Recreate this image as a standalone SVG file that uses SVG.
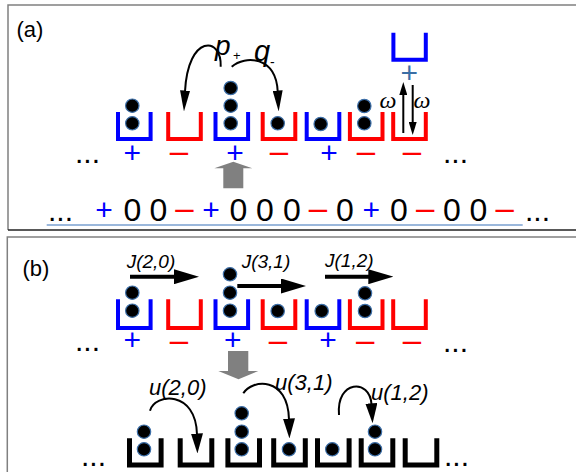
<svg xmlns="http://www.w3.org/2000/svg" width="576" height="472" viewBox="0 0 576 472">
<style>
text{font-family:"Liberation Sans",Arial,sans-serif;}
.frame{fill:none;stroke:#808080;stroke-width:1.5}
.bk{fill:none;stroke-width:4;stroke-linejoin:miter;stroke-linecap:butt}
.blue{stroke:#0000ff}
.red{stroke:#ff0000}
.black{stroke:#000;stroke-width:5}
.dot{fill:#000;stroke:#3d6fa8;stroke-width:1.2}
.sg{font-size:30px;text-anchor:middle}
.pl{fill:#0000ff}
.mn{fill:#ff0000;font-size:33px}
.num{font-size:32px;text-anchor:middle;fill:#000}
.ell{font-size:30px;fill:#000}
.lab{font-size:19px;font-style:italic;fill:#000}
.ulab{font-size:22px;font-style:italic;fill:#000}
.om{font-family:"Liberation Serif","Times New Roman",serif;font-size:24px;font-style:italic;text-anchor:middle}
.arc{fill:none;stroke:#000;stroke-width:2}
.jl{fill:none;stroke:#000;stroke-width:4}
.gray{fill:#808080}
</style>
<defs>
<marker id="hP" viewBox="0 0 21 10" refX="1" refY="5" markerWidth="21" markerHeight="10" markerUnits="userSpaceOnUse" orient="auto"><path d="M0,0 L21,5 L0,10 z" fill="#000"/></marker>
<marker id="hJ" viewBox="0 0 25 15" refX="1" refY="7.5" markerWidth="25" markerHeight="15" markerUnits="userSpaceOnUse" orient="auto"><path d="M0,0 L25,7.5 L0,15 z" fill="#000"/></marker>
<marker id="hU" viewBox="0 0 20 12" refX="1" refY="6" markerWidth="20" markerHeight="12" markerUnits="userSpaceOnUse" orient="auto"><path d="M0,0 L20,6 L0,12 z" fill="#000"/></marker>
<marker id="hW" viewBox="0 0 13 8" refX="1" refY="4" markerWidth="13" markerHeight="8" markerUnits="userSpaceOnUse" orient="auto"><path d="M0,0 L13,4 L0,8 z" fill="#000"/></marker>
</defs>
<rect width="576" height="472" fill="#fff"/>

<!-- panel frames -->
<path class="frame" d="M590,5 H8 V230"/>
<path d="M8,230 H590" fill="none" stroke="#222" stroke-width="1.5"/>
<path class="frame" d="M590,237 H7.3 V480"/>

<text x="16.5" y="37" font-size="22" fill="#000">(a)</text>
<text x="22.5" y="275.5" font-size="22" fill="#000">(b)</text>

<!-- panel (a) buckets -->
<g id="a1"><path class="bk blue" d="M118,112 V139 H150.6 V112"/><circle class="dot" cx="132.3" cy="123.3" r="6.7"/><circle class="dot" cx="132.3" cy="105.7" r="6.7"/><text class="sg pl" x="132.3" y="162.8">+</text></g>
<g id="a2"><path class="bk red" d="M168.2,112 V139 H200.8 V112"/><text class="sg mn" x="179" y="162">–</text></g>
<g id="a3"><path class="bk blue" d="M215.5,112 V139 H248.1 V112"/><circle class="dot" cx="230.7" cy="123.3" r="6.7"/><circle class="dot" cx="230.7" cy="105.7" r="6.7"/><circle class="dot" cx="230.7" cy="88" r="6.7"/><text class="sg pl" x="235" y="162.8">+</text></g>
<g id="a4"><path class="bk red" d="M262.7,112 V139 H295.3 V112"/><circle class="dot" cx="277.7" cy="123.3" r="6.7"/><text class="sg mn" x="279" y="162">–</text></g>
<g id="a5"><path class="bk blue" d="M306.7,112 V139 H339.3 V112"/><circle class="dot" cx="320.7" cy="124" r="6.7"/><text class="sg pl" x="329" y="162.8">+</text></g>
<g id="a6"><path class="bk red" d="M349.9,112 V139 H382.5 V112"/><circle class="dot" cx="364.3" cy="123.3" r="6.7"/><circle class="dot" cx="364.3" cy="106" r="6.7"/><text class="sg mn" x="366" y="162">–</text></g>
<g id="a7"><path class="bk red" d="M393.2,112 V139 H425.8 V112"/><text class="sg mn" x="412" y="162">–</text></g>
<g id="a-top"><path class="bk blue" d="M393.4,32.7 V59.7 H425.8 V32.7"/><text class="sg" x="409.3" y="83" fill="#3a6ea5">+</text></g>
<text class="ell" x="75" y="163">...</text>
<text class="ell" x="443" y="163">...</text>

<!-- gray arrow (a) -->
<polygon class="gray" points="223.3,188.3 223.3,168.3 214.3,168.3 233.3,161.7 252.3,168.3 243.3,168.3 243.3,188.3"/>

<!-- bottom string (a) -->
<g id="a-string">
<text class="ell" x="48" y="221">...</text>
<text class="sg pl" x="104" y="220">+</text>
<text class="num" x="132.5" y="220.5">0</text>
<text class="num" x="158.5" y="220.5">0</text>
<text class="sg mn" x="184.5" y="219">–</text>
<text class="sg pl" x="211" y="220">+</text>
<text class="num" x="238.5" y="220.5">0</text>
<text class="num" x="265" y="220.5">0</text>
<text class="num" x="292" y="220.5">0</text>
<text class="sg mn" x="318" y="219">–</text>
<text class="num" x="345" y="220.5">0</text>
<text class="sg pl" x="371.3" y="220">+</text>
<text class="num" x="399" y="220.5">0</text>
<text class="sg mn" x="425.3" y="219">–</text>
<text class="num" x="452" y="220.5">0</text>
<text class="num" x="478.3" y="220.5">0</text>
<text class="sg mn" x="504.7" y="219">–</text>
<text class="ell" x="525" y="221">...</text>
<path d="M46.7,225 H522.7" stroke="#7aa0d0" stroke-width="1.5" fill="none"/>
</g>

<!-- panel (b) top buckets -->
<g id="b1"><path class="bk blue" d="M118,299.3 V328 H150.6 V299.3"/><circle class="dot" cx="132.3" cy="310.7" r="6.7"/><circle class="dot" cx="132.3" cy="292.7" r="6.7"/><text class="sg pl" x="132.3" y="350">+</text></g>
<g id="b2"><path class="bk red" d="M168.2,299.3 V328 H200.8 V299.3"/><text class="sg mn" x="179" y="351">–</text></g>
<g id="b3"><path class="bk blue" d="M215.5,299.3 V328 H248.1 V299.3"/><circle class="dot" cx="230" cy="310.7" r="6.7"/><circle class="dot" cx="230" cy="292.7" r="6.7"/><circle class="dot" cx="230" cy="274.3" r="6.7"/><text class="sg pl" x="232.7" y="350">+</text></g>
<g id="b4"><path class="bk red" d="M262.7,299.3 V328 H295.3 V299.3"/><circle class="dot" cx="277.7" cy="311" r="6.7"/><text class="sg mn" x="278" y="351">–</text></g>
<g id="b5"><path class="bk blue" d="M306.7,299.3 V328 H339.3 V299.3"/><circle class="dot" cx="321.7" cy="311" r="6.7"/><text class="sg pl" x="328" y="350">+</text></g>
<g id="b6"><path class="bk red" d="M349.9,299.3 V328 H382.5 V299.3"/><circle class="dot" cx="365" cy="311" r="6.7"/><circle class="dot" cx="365" cy="293.3" r="6.7"/><text class="sg mn" x="365.3" y="351">–</text></g>
<g id="b7"><path class="bk red" d="M393.2,299.3 V328 H425.8 V299.3"/><text class="sg mn" x="412" y="351">–</text></g>
<text class="ell" x="75" y="350.5">...</text>
<text class="ell" x="443" y="352">...</text>

<!-- gray arrow (b) -->
<polygon class="gray" points="228,351 248.3,351 248.3,371 258.3,371 238.5,379.3 218.3,371 228,371"/>

<!-- panel (b) bottom buckets -->
<g id="c1"><path class="bk black" d="M129.5,438.3 V465 H161.1 V438.3"/><circle class="dot" cx="144" cy="449.3" r="6.7"/><circle class="dot" cx="144" cy="431.7" r="6.7"/></g>
<g id="c2"><path class="bk black" d="M180.2,438.3 V465 H211.8 V438.3"/></g>
<g id="c3"><path class="bk black" d="M227.9,438.3 V465 H259.5 V438.3"/><circle class="dot" cx="241.7" cy="449.3" r="6.7"/><circle class="dot" cx="241.7" cy="431.7" r="6.7"/><circle class="dot" cx="241.7" cy="413.3" r="6.7"/></g>
<g id="c4"><path class="bk black" d="M273.7,438.3 V465 H305.3 V438.3"/><circle class="dot" cx="289" cy="449.3" r="6.7"/></g>
<g id="c5"><path class="bk black" d="M317.5,438.3 V465 H349.1 V438.3"/><circle class="dot" cx="332.3" cy="449.3" r="6.7"/></g>
<g id="c6"><path class="bk black" d="M361.2,438.3 V465 H392.8 V438.3"/><circle class="dot" cx="375" cy="449.3" r="6.7"/><circle class="dot" cx="375" cy="431.7" r="6.7"/></g>
<g id="c7"><path class="bk black" d="M405.2,438.3 V465 H436.8 V438.3"/></g>
<text class="ell" x="81" y="465.7">...</text>
<text class="ell" x="444" y="465.7">...</text>

<!-- connectors -->
<g id="connectors">
<path class="arc" d="M220.7,66.7 C222,36 188,34 185,91.5" marker-end="url(#hP)"/>
<path class="arc" d="M231.7,66.7 C245,55 276,56 277.7,91.5" marker-end="url(#hP)"/>
<path d="M403.3,133 V94" stroke="#000" stroke-width="2" fill="none" marker-end="url(#hW)"/>
<path d="M412.7,85 V123" stroke="#000" stroke-width="2" fill="none" marker-end="url(#hW)"/>
<path class="jl" d="M130,276.7 H175" marker-end="url(#hJ)"/>
<path class="jl" d="M237.3,286 H282" marker-end="url(#hJ)"/>
<path class="jl" d="M325,276.7 H369.3" marker-end="url(#hJ)"/>
<path class="arc" d="M150,410.7 C155,393 196,390 197,434.5" marker-end="url(#hU)"/>
<path class="arc" d="M243.3,393.3 C252,379 288,376 289,419.5" marker-end="url(#hU)"/>
<path class="arc" d="M339,415 C336,380 370,378 371.5,404.3" marker-end="url(#hU)"/>
</g>

<!-- connector labels -->
<text x="215" y="55" font-size="28" font-style="italic" fill="#000">p</text>
<text x="233" y="60" font-size="13" fill="#000">+</text>
<text x="254" y="61" font-size="29" font-style="italic" fill="#000">q</text>
<text x="270" y="67" font-size="14" fill="#000">-</text>
<text class="om" x="388" y="108">ω</text>
<text class="om" x="422" y="108">ω</text>
<text class="lab" x="126.7" y="268">J(2,0)</text>
<text class="lab" x="241.7" y="268">J(3,1)</text>
<text class="lab" x="325" y="267">J(1,2)</text>
<text class="ulab" x="149" y="395">u(2,0)</text>
<text class="ulab" x="275" y="390">u(3,1)</text>
<text class="ulab" x="371" y="400">u(1,2)</text>
</svg>
